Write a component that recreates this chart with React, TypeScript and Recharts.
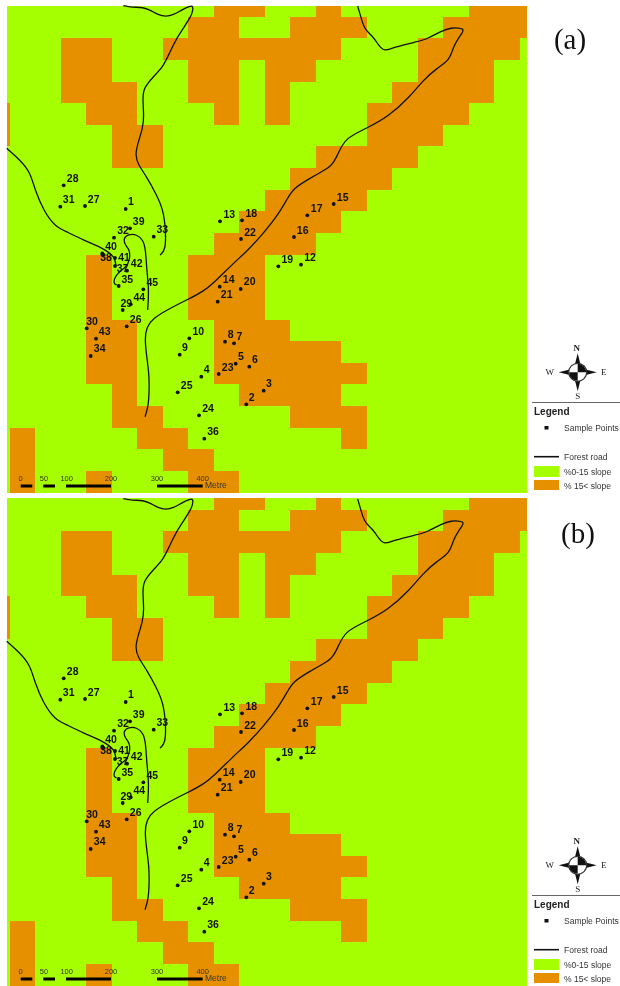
import { ScatterChart, Scatter, XAxis, YAxis, ReferenceArea, ReferenceLine, ReferenceDot } from 'recharts'

const GREEN = '#A6FF00', ORANGE = '#E69000', INK = '#111111'
const SANS = '"Liberation Sans", Arial, sans-serif'
const SERIF = '"Liberation Serif", "Times New Roman", serif'

// map frame in map units, shared by both panels
const MAP_LEFT = 7, MAP_RIGHT = 527, MAP_BOTTOM = 493
const COL_START = 9.7, COL_W = 25.5
const ROW_START = 16.7, ROW_H = 21.63

// slope class grid: [row, columns with slope over 15%]
const steepCells: [number, number[]][] = [
  [-1, [8, 9, 12, 18, 19, 20]],
  [0, [7, 8, 11, 12, 13, 17, 18, 19, 20]],
  [1, [2, 3, 6, 7, 8, 9, 10, 11, 12, 16, 17, 18, 19]],
  [2, [2, 3, 7, 8, 10, 11, 16, 17, 18]],
  [3, [2, 3, 4, 7, 8, 10, 15, 16, 17, 18]],
  [4, [-1, 3, 4, 8, 10, 14, 15, 16, 17]],
  [5, [-1, 4, 5, 14, 15, 16]],
  [6, [4, 5, 12, 13, 14, 15]],
  [7, [11, 12, 13, 14]],
  [8, [10, 11, 12, 13]],
  [9, [9, 10, 11, 12]],
  [10, [8, 9, 10, 11]],
  [11, [3, 7, 8, 9]],
  [12, [3, 7, 8, 9]],
  [13, [3, 7, 8, 9]],
  [14, [3, 4, 8, 9, 10]],
  [15, [3, 4, 8, 9, 10, 11, 12]],
  [16, [3, 4, 8, 9, 10, 11, 12, 13]],
  [17, [4, 9, 10, 11, 12]],
  [18, [4, 5, 11, 12, 13]],
  [19, [0, 5, 6, 13]],
  [20, [0, 6, 7]],
  [21, [0, 3, 7, 8]],
]

// id, x, y, label x, label y
const samples: [string, number, number, number, number][] = [
  ['28', 63.7, 185.3, 72.7, 178], ['31', 60.3, 206.7, 68.7, 199.3], ['27', 85, 206, 93.7, 198.7],
  ['1', 125.7, 209, 131, 201.3], ['39', 130, 228.3, 138.7, 220.7], ['32', 114, 237.7, 123, 230],
  ['33', 153.7, 236.7, 162.3, 229.3], ['40', 102.3, 253.5, 111, 246], ['38', 102.5, 255, 106, 256.7],
  ['41', 115, 258, 124, 256.7], ['37', 115, 266, 122.7, 268], ['42', 127, 270.7, 136.7, 263.3],
  ['35', 118.7, 286, 127.3, 279], ['45', 143.3, 289.3, 152.3, 282], ['44', 130.7, 304.3, 139.3, 297],
  ['29', 122.7, 310, 126.3, 302.7], ['26', 126.7, 326.3, 135.7, 318.7], ['30', 86.7, 328.3, 92, 320.7],
  ['43', 96, 338.7, 104.7, 331], ['34', 90.7, 356, 99.7, 348.3],
  ['13', 220, 221.3, 229.3, 214.3], ['18', 242, 220.3, 251.3, 212.7], ['22', 241, 239, 250, 231.7],
  ['16', 294, 237, 302.7, 229.7], ['17', 307.3, 215.3, 316.7, 207.7], ['15', 333.7, 204, 342.7, 196.7],
  ['19', 278.3, 266.3, 287.3, 259], ['12', 301, 264.7, 310, 257.3], ['14', 219.7, 286.7, 228.7, 279],
  ['20', 240.7, 289, 249.7, 281.3], ['21', 217.7, 301.7, 226.7, 294], ['10', 189.3, 338.3, 198.3, 331],
  ['9', 179.7, 354.7, 185, 347], ['8', 225, 341.7, 230.7, 334], ['7', 234, 343.3, 239.3, 335.7],
  ['5', 235.7, 363.7, 241, 356], ['6', 249.3, 366.7, 255, 359.3], ['23', 218.7, 374, 227.7, 366.7],
  ['4', 201.3, 376.7, 206.7, 369], ['25', 177.7, 392.3, 186.7, 384.7], ['3', 263.7, 390.7, 269, 383],
  ['2', 246.3, 404.3, 251.7, 396.7], ['24', 199, 415.3, 208, 408], ['36', 204.3, 438.7, 213, 431],
]

// forest roads
const roadNorth = [
  [123.3, 5.7], [131.7, 7.3], [143.3, 7.3], [150, 10], [158.3, 15], [165.7, 16.7], [173.3, 15], [181.7, 10],
  [190, 6], [193.3, 6], [192.5, 12], [190.7, 16.7], [183.3, 28.3], [176.7, 38.3], [170, 51.7], [163.3, 66.7], [153.3, 76.7],
  [143.3, 88.3], [142.7, 100], [144, 116.7], [142.7, 128.3], [138.3, 141.7], [135, 155], [138.3, 165], [146.7, 176.7],
  [156.7, 195], [163.3, 210], [165.7, 230], [165.7, 250], [160, 255],
]
const roadWest = [
  [6.7, 148.3], [20, 160], [30, 171.7], [35, 190], [43.3, 210], [55, 226.7], [66.7, 231.7], [86.7, 241.7],
  [103.3, 248.3], [115, 256.7], [116, 266],
]
const roadLoop = [
  [147.7, 310], [149, 290], [146.7, 270], [145.7, 250], [143.3, 240], [136.7, 234.3], [128.3, 234.3], [123.3, 238.3],
  [125, 245], [130, 250], [129.7, 260], [126.7, 266.7], [116.7, 273.3], [112.7, 283.3], [116.7, 285],
]
const roadMain = [
  [145, 416.7], [148.3, 406.7], [149.3, 390], [149, 373.3], [146.7, 356.7], [144.7, 338.3], [146.7, 326.7],
  [153.3, 318.3], [166.7, 310], [186.7, 300], [203.3, 291.7], [216.7, 280], [233.3, 263.3], [248.3, 250],
  [263.3, 233.3], [276.7, 216.7], [286.7, 200], [293.3, 188.3], [310, 178.3], [321.7, 171.7], [332.3, 165.7],
  [338.3, 153.3], [345, 138.3], [366.7, 128.3], [388.3, 116.7], [410, 96.7], [423.3, 80], [436.7, 68.3], [450, 60],
  [453.3, 46.7], [458.3, 38.3], [463.3, 31.7], [463, 28.5], [458, 28], [451.7, 27.7], [441.7, 30.7], [426.7, 39.3], [416.7, 41.7],
  [393.3, 47.3], [384, 51.7], [378.3, 45], [373.3, 36.7], [365, 30], [361.7, 20], [357.7, 6],
]
const roads = [roadNorth, roadWest, roadLoop, roadMain]

// scale bar
const scaleTicks = ['0', '50', '100', '200', '300', '400']
const scaleTickX = [20.7, 44, 66.7, 111, 157, 202.7]
const scaleBars = [[20.7, 32.3], [43.3, 55], [66, 111], [157, 202.7]]

const colEdge = (c: number) => Math.round(Math.min(MAP_RIGHT, Math.max(MAP_LEFT, COL_START + c * COL_W)))
const rowEdge = (r: number) => Math.round(ROW_START + r * ROW_H)

const toPoint = (p: number[]) => ({ x: p[0], y: p[1] })
const samplePoints = samples.map((s) => ({ id: s[0], x: s[1], y: s[2] }))
const sampleLabels = samples.map((s) => ({ id: s[0], x: s[3], y: s[4] }))
const scaleLabels = scaleTicks.map((t, i) => ({ id: t, x: scaleTickX[i], y: 478 }))

const Dot = (p: any) => <circle cx={p.cx} cy={p.cy} r={1.9} fill={INK} />
const Nothing = () => null
const SampleLabel = (p: any) => (
  <text x={p.cx} y={p.cy} textAnchor="middle" dominantBaseline="central" fontFamily={SANS} fontSize={10.5} fontWeight={700} fill={INK} stroke="none">
    {p.payload.id}
  </text>
)
const ScaleLabel = (p: any) => (
  <text x={p.cx} y={p.cy} textAnchor="middle" dominantBaseline="central" fontFamily={SANS} fontSize={7.5} fill="#333" stroke="none">
    {p.payload.id}
  </text>
)
const MetreLabel = (p: any) => (
  <text x={p.cx} y={p.cy} dominantBaseline="central" fontFamily={SANS} fontSize={8.5} fill="#333" stroke="none">Metre</text>
)

const Compass = (p: any) => {
  const { cx, cy } = p
  const t = { fontFamily: SERIF, fontSize: 9, fill: '#222', textAnchor: 'middle' as const, dominantBaseline: 'central' as const }
  return (
    <g>
      <polygon points={`${cx},${cy - 19} ${cx - 3},${cy - 7} ${cx + 3},${cy - 7}`} fill="#111" />
      <polygon points={`${cx},${cy + 19} ${cx - 3},${cy + 7} ${cx + 3},${cy + 7}`} fill="#111" />
      <polygon points={`${cx - 19},${cy} ${cx - 7},${cy - 3} ${cx - 7},${cy + 3}`} fill="#111" />
      <polygon points={`${cx + 19},${cy} ${cx + 7},${cy - 3} ${cx + 7},${cy + 3}`} fill="#111" />
      <circle cx={cx} cy={cy} r={9} fill="#fff" stroke="#333" strokeWidth={1.2} />
      <path d={`M${cx},${cy} L${cx},${cy - 8.5} A8.5,8.5 0 0 1 ${cx + 8.5},${cy} Z`} fill="#111" />
      <path d={`M${cx},${cy} L${cx},${cy + 8.5} A8.5,8.5 0 0 1 ${cx - 8.5},${cy} Z`} fill="#111" />
      <text x={cx - 1} y={cy - 24} {...t} fontWeight={700}>N</text>
      <text x={cx - 28} y={cy} {...t}>W</text>
      <text x={cx + 26} y={cy} {...t}>E</text>
      <text x={cx} y={cy + 24} {...t}>S</text>
    </g>
  )
}

function MapPanel({ tag, tagX, tagY, mapTop }: { tag: string; tagX: number; tagY: number; mapTop: number }) {
  const small = { fontFamily: SANS, fontSize: 8.5, fill: '#333' }
  return (
    <ScatterChart width={620} height={MAP_BOTTOM} margin={{ top: 0, right: 0, bottom: 0, left: 0 }}>
      <XAxis type="number" dataKey="x" domain={[0, 620]} hide />
      <YAxis type="number" dataKey="y" domain={[0, MAP_BOTTOM]} reversed hide />
      <ReferenceArea x1={MAP_LEFT} x2={MAP_RIGHT} y1={mapTop} y2={MAP_BOTTOM} fill={GREEN} fillOpacity={1} stroke="none" />
      {steepCells.flatMap(([r, cols]) =>
        cols.map((c) => (
          <ReferenceArea
            key={`${r}-${c}`}
            x1={colEdge(c)}
            x2={colEdge(c + 1)}
            y1={r < 0 ? mapTop : rowEdge(r)}
            y2={rowEdge(r + 1)}
            fill={ORANGE}
            fillOpacity={1}
            stroke="none"
          />
        )),
      )}
      {scaleBars.map((b, i) => (
        <ReferenceLine key={i} segment={[{ x: b[0], y: 486 }, { x: b[1], y: 486 }]} stroke="#000" strokeWidth={3} />
      ))}
      {roads.map((road, i) => (
        <Scatter key={i} data={road.map(toPoint)} line={{ stroke: INK, strokeWidth: 1.3 }} lineJointType="basis" shape={Nothing} isAnimationActive={false} />
      ))}
      <Scatter data={samplePoints} shape={Dot} isAnimationActive={false} />
      <Scatter data={sampleLabels} shape={SampleLabel} isAnimationActive={false} />
      <Scatter data={scaleLabels} shape={ScaleLabel} isAnimationActive={false} />
      <Scatter data={[{ x: 205, y: 485 }]} shape={MetreLabel} isAnimationActive={false} />
      <ReferenceDot x={577.7} y={372.3} r={9} shape={Compass} />
      <g>
        <text x={tagX} y={tagY} textAnchor="middle" dominantBaseline="central" fontFamily={SERIF} fontSize={29} fill="#111">{tag}</text>
        <line x1={532} x2={620} y1={402.5} y2={402.5} stroke="#666" strokeWidth={1} />
        <text x={534} y={411} dominantBaseline="central" fontFamily={SANS} fontSize={10} fontWeight={700} fill="#222">Legend</text>
        <rect x={544.5} y={426} width={4} height={3.5} fill="#111" />
        <text x={564} y={428} dominantBaseline="central" {...small}>Sample Points</text>
        <line x1={534} x2={559} y1={456.7} y2={456.7} stroke="#111" strokeWidth={1.6} />
        <text x={564} y={456.7} dominantBaseline="central" {...small}>Forest road</text>
        <rect x={534} y={466} width={25} height={11} fill={GREEN} />
        <text x={564} y={471.5} dominantBaseline="central" {...small}>%0-15 slope</text>
        <rect x={534} y={480} width={25} height={10} fill={ORANGE} />
        <text x={564} y={485.5} dominantBaseline="central" {...small}>% 15&lt; slope</text>
      </g>
    </ScatterChart>
  )
}

export default function App() {
  return (
    <div style={{ position: 'absolute', left: 0, top: 0, width: 620, height: 986, background: '#fff', filter: 'blur(0.4px)' }}>
      <div style={{ position: 'absolute', left: 0, top: 0 }}>
        <MapPanel tag="(a)" tagX={570} tagY={39} mapTop={6} />
      </div>
      <div style={{ position: 'absolute', left: 0, top: 493 }}>
        <MapPanel tag="(b)" tagX={578} tagY={40} mapTop={5} />
      </div>
    </div>
  )
}
